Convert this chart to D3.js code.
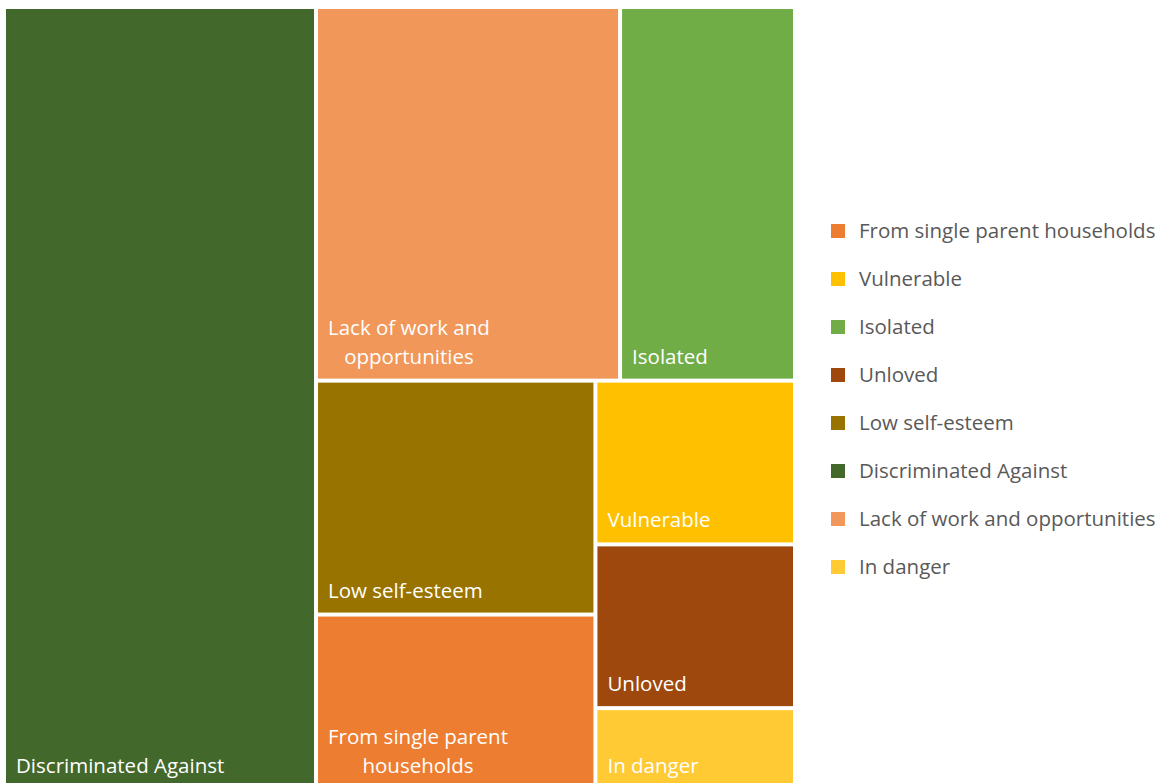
<!DOCTYPE html>
<html>
<head>
<meta charset="utf-8">
<script src="https://cdn.jsdelivr.net/npm/d3@7"></script>
<style>
  body { margin: 0; background: #fff; }
  svg { display: block; }
</style>
</head>
<body>
<svg id="chart"></svg>
<script>
const width = 1173;
const height = 783;

// legend order
const categories = [
  'From single parent households',
  'Vulnerable',
  'Isolated',
  'Unloved',
  'Low self-esteem',
  'Discriminated Against',
  'Lack of work and opportunities',
  'In danger'
];
const values = [31.5, 21, 42, 21, 42, 157, 73, 10.5];
const colors = ['#ED7D31', '#FFC000', '#70AD47', '#9E480E', '#997300', '#43682B', '#F1975A', '#FFCA33'];

// nesting of the tiles (slice / dice alternates by depth)
const layout = [
  'Discriminated Against',
  [
    ['Lack of work and opportunities', 'Isolated'],
    [
      ['Low self-esteem', 'From single parent households'],
      ['Vulnerable', 'Unloved', 'In danger']
    ]
  ]
];

const font = '"Open Sans", sans-serif';
const fontSize = '20.5px';
const valueOf = new Map(categories.map((c, i) => [c, values[i]]));
const color = d3.scaleOrdinal().domain(categories).range(colors);

const svg = d3.select('#chart').attr('width', width).attr('height', height);

const tx0 = 6, ty0 = 9, tx1 = 793, ty1 = 788;

const root = d3.hierarchy(layout, d => Array.isArray(d) ? d : null)
  .sum(d => Array.isArray(d) ? 0 : valueOf.get(d));

d3.treemap()
  .tile(d3.treemapSliceDice)
  .size([tx1 - tx0, ty1 - ty0])
  .paddingInner(4)(root);

const cells = svg.append('g')
  .attr('transform', `translate(${tx0},${ty0})`)
  .selectAll('g')
  .data(root.leaves())
  .join('g');

cells.append('rect')
  .attr('x', d => d.x0)
  .attr('y', d => d.y0)
  .attr('width', d => d.x1 - d.x0)
  .attr('height', d => d.y1 - d.y0)
  .attr('fill', d => color(d.data));

// labels: bottom-left, wrapped, lines centred within the block
const lineH = 29;
cells.each(function(d) {
  const g = d3.select(this);
  const maxW = d.x1 - d.x0 - 20;
  const words = d.data.split(' ');
  const probe = g.append('text').style('font-family', font).style('font-size', fontSize);
  const lines = [];
  let cur = '';
  words.forEach(w => {
    const test = cur ? cur + ' ' + w : w;
    probe.text(test);
    if (probe.node().getComputedTextLength() > maxW && cur) {
      lines.push(cur);
      cur = w;
    } else cur = test;
  });
  lines.push(cur);
  const widths = lines.map(l => { probe.text(l); return probe.node().getComputedTextLength(); });
  probe.remove();
  const blockW = d3.max(widths);
  const base = d.y1 - 15;
  lines.forEach((l, i) => {
    g.append('text')
      .attr('x', d.x0 + 10 + (blockW - widths[i]) / 2)
      .attr('y', base - (lines.length - 1 - i) * lineH)
      .style('font-family', font)
      .style('font-size', fontSize)
      .attr('fill', '#fff')
      .text(l);
  });
});

// legend
const legendY = d3.scalePoint().domain(categories).range([231, 567]);
const legend = svg.append('g')
  .selectAll('g')
  .data(categories)
  .join('g')
  .attr('transform', d => `translate(831,${legendY(d)})`);

legend.append('rect')
  .attr('x', 0).attr('y', -7)
  .attr('width', 14).attr('height', 14)
  .attr('fill', d => color(d));

legend.append('text')
  .attr('x', 28).attr('y', 7)
  .style('font-family', font)
  .style('font-size', fontSize)
  .attr('fill', '#595959')
  .text(d => d);
</script>
</body>
</html>
